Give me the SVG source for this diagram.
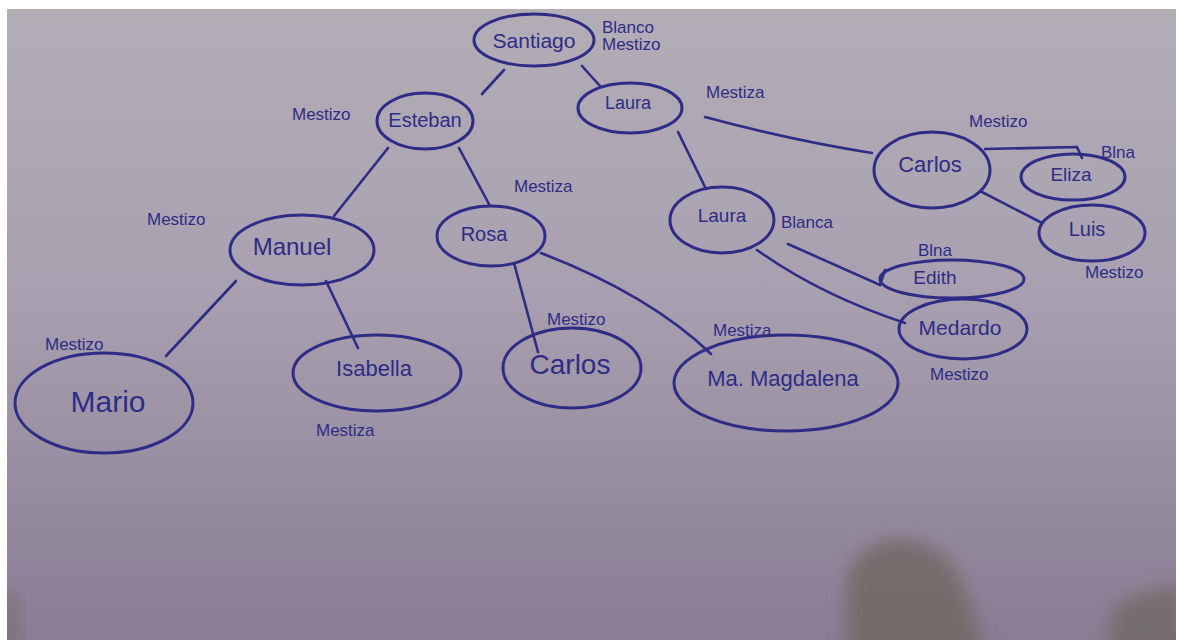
<svg xmlns="http://www.w3.org/2000/svg" width="1178" height="640" viewBox="0 0 1178 640">
<defs>
<linearGradient id="paper" x1="0" y1="0" x2="0" y2="1">
<stop offset="0" stop-color="#b3adb6"/>
<stop offset="0.45" stop-color="#a8a0b0"/>
<stop offset="1" stop-color="#887d93"/>
</linearGradient>
<filter id="blur" x="-30%" y="-30%" width="160%" height="160%"><feGaussianBlur stdDeviation="9"/></filter>
<clipPath id="paperClip"><rect x="7" y="9" width="1169" height="631"/></clipPath>
</defs>
<style>
.n ellipse{fill:none;stroke:#2f2c86;stroke-width:3}
.n text{fill:#2f2c86;font-family:"Liberation Sans",Arial,sans-serif;text-anchor:middle;dominant-baseline:middle}
.lab{fill:#2f2c86;font-family:"Liberation Sans",Arial,sans-serif;font-size:17px}
#edges path{fill:none;stroke:#2f2c86;stroke-width:2.6;stroke-linecap:round}
</style>
<rect width="1178" height="640" fill="#ffffff"/>
<rect x="7" y="9" width="1169" height="631" fill="url(#paper)"/>
<g clip-path="url(#paperClip)">
<path d="M848 660 L846 585 Q852 548 890 540 Q930 536 952 565 Q970 590 985 660 Z" fill="#6e6760" opacity="0.8" filter="url(#blur)"/>
<path d="M1108 660 L1112 610 Q1135 590 1180 585 L1190 660 Z" fill="#6e6760" opacity="0.75" filter="url(#blur)"/>
<path d="M0 585 L18 600 L20 650 L0 650 Z" fill="#6e6760" opacity="0.5" filter="url(#blur)"/>
</g>

<g id="edges">
<path d="M504 70 L482 94"/>
<path d="M582 66 L600 86"/>
<path d="M388 148 L334 216"/>
<path d="M459 148 L490 206"/>
<path d="M705 117 Q790 140 872 153"/>
<path d="M678 132 L706 189"/>
<path d="M985 149 L1077 147 L1082 158"/>
<path d="M980 191 L1042 223"/>
<path d="M788 244 L880 285 L885 270"/>
<path d="M757 250 Q820 295 905 323"/>
<path d="M236 281 L166 356"/>
<path d="M326 281 L358 348"/>
<path d="M514 263 L538 352"/>
<path d="M541 253 Q650 295 711 354"/>
</g>

<g id="santiago" class="n"><ellipse cx="534" cy="40" rx="60" ry="26"/><text x="534" y="42" font-size="21">Santiago</text></g>
<g id="esteban" class="n"><ellipse cx="425" cy="121" rx="48" ry="28"/><text x="425" y="122" font-size="20">Esteban</text></g>
<g id="laura1" class="n"><ellipse cx="630" cy="108" rx="52" ry="25"/><text x="628" y="104" font-size="18">Laura</text></g>
<g id="carlos1" class="n"><ellipse cx="932" cy="170" rx="58" ry="38"/><text x="930" y="166" font-size="22">Carlos</text></g>
<g id="eliza" class="n"><ellipse cx="1073" cy="177" rx="52" ry="23"/><text x="1071" y="176" font-size="19">Eliza</text></g>
<g id="luis" class="n"><ellipse cx="1092" cy="233" rx="53" ry="28"/><text x="1087" y="231" font-size="20">Luis</text></g>
<g id="laura2" class="n"><ellipse cx="722" cy="220" rx="52" ry="33"/><text x="722" y="217" font-size="19">Laura</text></g>
<g id="edith" class="n"><ellipse cx="952" cy="279" rx="72" ry="19"/><text x="935" y="279" font-size="19">Edith</text></g>
<g id="medardo" class="n"><ellipse cx="963" cy="329" rx="64" ry="30"/><text x="960" y="329" font-size="21">Medardo</text></g>
<g id="manuel" class="n"><ellipse cx="302" cy="250" rx="72" ry="35"/><text x="292" y="249" font-size="24">Manuel</text></g>
<g id="rosa" class="n"><ellipse cx="491" cy="236" rx="54" ry="30"/><text x="484" y="236" font-size="20">Rosa</text></g>
<g id="mario" class="n"><ellipse cx="104" cy="403" rx="89" ry="50"/><text x="108" y="404" font-size="30">Mario</text></g>
<g id="isabella" class="n"><ellipse cx="377" cy="373" rx="84" ry="38"/><text x="374" y="370" font-size="22">Isabella</text></g>
<g id="carlos2" class="n"><ellipse cx="572" cy="368" rx="69" ry="40"/><text x="570" y="367" font-size="28">Carlos</text></g>
<g id="magdalena" class="n"><ellipse cx="786" cy="383" rx="112" ry="48"/><text x="783" y="380" font-size="22">Ma. Magdalena</text></g>

<g id="labels">
<text class="lab" x="602" y="33" font-size="14">Blanco</text>
<text class="lab" x="602" y="50" font-size="14">Mestizo</text>
<text class="lab" x="292" y="120">Mestizo</text>
<text class="lab" x="706" y="98" font-size="19">Mestiza</text>
<text class="lab" x="969" y="127">Mestizo</text>
<text class="lab" x="1101" y="158">Blna</text>
<text class="lab" x="1085" y="278">Mestizo</text>
<text class="lab" x="781" y="228">Blanca</text>
<text class="lab" x="918" y="256">Blna</text>
<text class="lab" x="930" y="380">Mestizo</text>
<text class="lab" x="147" y="225" font-size="19">Mestizo</text>
<text class="lab" x="514" y="192" font-size="19">Mestiza</text>
<text class="lab" x="45" y="350" font-size="20">Mestizo</text>
<text class="lab" x="316" y="436" font-size="21">Mestiza</text>
<text class="lab" x="547" y="325">Mestizo</text>
<text class="lab" x="713" y="336" font-size="20">Mestiza</text>
</g>
</svg>
